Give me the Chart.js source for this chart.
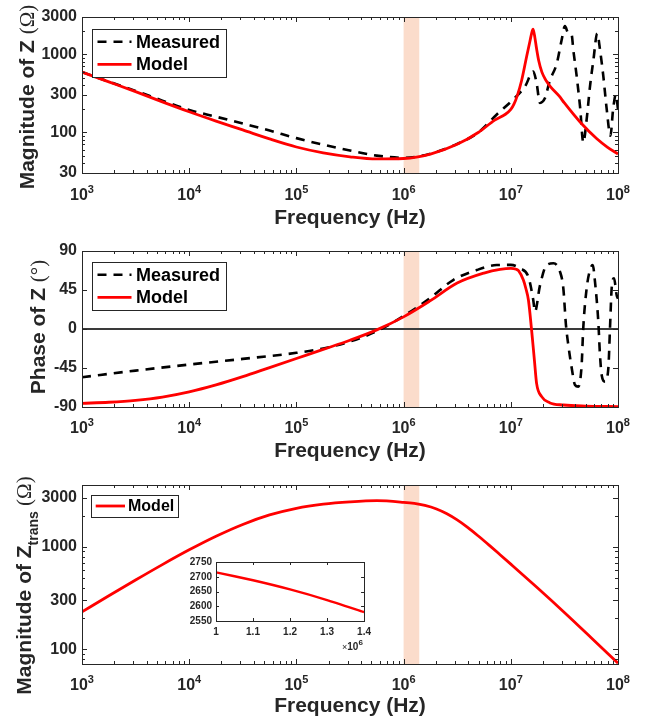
<!DOCTYPE html>
<html>
<head>
<meta charset="utf-8">
<script src="https://cdn.jsdelivr.net/npm/chart.js@4.4.1/dist/chart.umd.min.js"></script>
<style>
  body { margin: 0; background: #fff; }
  #wrap { position: relative; width: 649px; height: 718px; overflow: hidden; }
  #wrap canvas { position: absolute; }
</style>
</head>
<body>
<div id="wrap">
  <canvas id="magChart" width="649" height="232" style="left:0;top:0;width:649px;height:232px"></canvas>
  <canvas id="phaseChart" width="649" height="236" style="left:0;top:232px;width:649px;height:236px"></canvas>
  <canvas id="transChart" width="649" height="250" style="left:0;top:468px;width:649px;height:250px"></canvas>
  <canvas id="insetChart" width="200" height="104" style="left:176px;top:552px;width:200px;height:104px"></canvas>
</div>
<script>
// --- data ---
const bandRange = [1e6, 1.4e6];
const xTickExps = [3, 4, 5, 6, 7, 8];
const magTicks = [30, 100, 300, 1000, 3000];
const phaseTicks = [-90, -45, 0, 45, 90];
const transTicks = [100, 300, 1000, 3000];
const insetXTicks = [1e6, 1.1e6, 1.2e6, 1.3e6, 1.4e6];
const insetYTicks = [2550, 2600, 2650, 2700, 2750];

// |Z| model
const magModelFreq = [1e3, 1.78e3, 3.16e3, 5.62e3, 1e4, 1.78e4, 3.16e4, 5.62e4, 1e5, 1.78e5, 3.16e5, 5.62e5, 1e6, 1.78e6, 3.16e6, 5.01e6, 7.08e6, 8.91e6, 1e7, 1.07e7, 1.15e7, 1.26e7, 1.41e7, 1.51e7, 1.585e7, 1.61e7, 1.66e7, 1.74e7, 1.82e7, 1.95e7, 2.14e7, 2.34e7, 2.82e7, 3.16e7, 4.47e7, 6.31e7, 7.94e7, 1e8];
const magModelOhm = [590, 442, 331, 245, 183, 139, 107, 82, 64.6, 54.3, 48.4, 45.4, 46, 52.5, 70, 100, 143, 170, 196, 229, 295, 457, 955, 1479, 1995, 2089, 1778, 1175, 832, 589, 457, 385, 292, 237, 133, 83, 64.6, 52.5];
// |Z| measured
const magMeasFreq = [1e3, 1.78e3, 3.16e3, 5.62e3, 1e4, 1.78e4, 3.16e4, 5.62e4, 1e5, 1.78e5, 3.16e5, 5.62e5, 1e6, 1.78e6, 3.16e6, 5.01e6, 7.4e6, 1.05e7, 1.36e7, 1.62e7, 1.74e7, 1.87e7, 2.09e7, 2.3e7, 2.69e7, 2.98e7, 3.2e7, 3.44e7, 3.7e7, 3.83e7, 4.12e7, 4.42e7, 4.75e7, 5.1e7, 5.48e7, 5.9e7, 6.4e7, 6.8e7, 7.3e7, 7.85e7, 8.5e7, 9.0e7, 9.55e7, 1e8];
const magMeasOhm = [590, 445, 339, 254, 193, 158, 129, 105, 84, 69.2, 58.2, 50.1, 47, 53.1, 70.8, 100, 169, 262, 387, 601, 428, 238, 276, 449, 769, 1520, 2290, 1850, 1758, 1134, 519, 216, 74, 146, 387, 847, 1850, 1134, 519, 196, 90, 196, 304, 196];

// phase model
const phaseModelFreq = [1e3, 1.78e3, 3.16e3, 5.62e3, 1e4, 1.78e4, 3.16e4, 5.62e4, 1e5, 1.78e5, 3.16e5, 5.62e5, 1e6, 1.78e6, 3.16e6, 5.62e6, 7.94e6, 1e7, 1.12e7, 1.18e7, 1.31e7, 1.38e7, 1.46e7, 1.56e7, 1.66e7, 1.74e7, 1.94e7, 2.3e7, 3.1e7, 5e7, 1e8];
const phaseModelDeg = [-85.8, -84.5, -82.3, -78.5, -72.5, -64.5, -55, -44.5, -34, -23.5, -13, -1, 14, 32.7, 53, 64.5, 68.8, 70, 69, 67.3, 56.5, 47, 33.5, 0, -35.8, -62.7, -78, -85, -87.7, -89, -89.5];
// phase measured
const phaseMeasFreq = [1e3, 3.16e3, 1e4, 3.16e4, 1e5, 1.78e5, 3.16e5, 5.62e5, 1e6, 1.78e6, 2.9e6, 4.8e6, 7.4e6, 1e7, 1.22e7, 1.46e7, 1.62e7, 1.68e7, 1.87e7, 2.16e7, 2.5e7, 2.88e7, 3.09e7, 3.27e7, 3.44e7, 3.7e7, 3.97e7, 4.27e7, 4.58e7, 4.74e7, 5.1e7, 5.48e7, 5.81e7, 6.1e7, 6.55e7, 6.79e7, 7.04e7, 7.57e7, 8.13e7, 8.42e7, 8.73e7, 9.18e7, 9.72e7, 1e8];
const phaseMeasDeg = [-55.7, -48, -41, -34.5, -27.5, -22.5, -14.5, -2.5, 15, 36, 56.5, 68, 73.8, 74, 70, 60, 33.5, 20, 50, 73.8, 75.8, 66, 47, 4.6, -18.5, -45, -64.6, -66.5, -41.5, 0.8, 47, 68, 73.8, 54.6, 8.5, -30, -53, -60.8, -45, 0.8, 47, 58.5, 39, 35];

// |Z_trans| model
const transFreq = [1e3, 1.78e3, 3.16e3, 5.62e3, 1e4, 1.78e4, 3.16e4, 5.62e4, 1e5, 1.78e5, 3.16e5, 5.62e5, 1e6, 1.26e6, 1.58e6, 2e6, 2.51e6, 3.16e6, 3.98e6, 5.01e6, 6.31e6, 7.94e6, 1e7, 1.78e7, 3.16e7, 5.62e7, 1e8];
const transOhm = [232, 333, 474, 670, 933, 1266, 1650, 2042, 2371, 2600, 2738, 2811, 2713, 2645, 2527, 2348, 2107, 1826, 1537, 1266, 1032, 837, 677, 396, 229, 130, 73.4];

// inset zoom 1.0-1.4 MHz
const insetFreq = [1.0e6, 1.1e6, 1.2e6, 1.3e6, 1.4e6];
const insetOhm = [2715, 2688, 2657, 2621, 2580];

// --- styling ---
const FONT = '"Liberation Sans", Arial, Helvetica, sans-serif';
const SERIF = '"Liberation Serif", "DejaVu Serif", serif';
const INK = '#262626';
const RED = '#ff0000';
const BAND = '#fbdccb';

function pts(xs, ys) { return xs.map((x, i) => ({ x: x, y: ys[i] })); }

function logMinors(min, max, majors) {
	const out = [];
	for (let e = Math.floor(Math.log10(min)); e <= Math.ceil(Math.log10(max)); e++) {
		for (let k = 1; k <= 9; k++) {
			const v = k * Math.pow(10, e);
			if (v >= min * 0.999 && v <= max * 1.001 && majors.indexOf(v) < 0) out.push(v);
		}
	}
	return out;
}

// draw a run of text pieces (font changes, sub/superscript) from one start point
function drawRich(ctx, segs, x, y, align) {
	let w = 0;
	segs.forEach(s => { ctx.font = s.font; s.w = ctx.measureText(s.t).width; w += s.w; });
	let cx = align === 'center' ? x - w / 2 : x;
	ctx.textAlign = 'left';
	ctx.textBaseline = 'alphabetic';
	segs.forEach(s => { ctx.font = s.font; ctx.fillText(s.t, cx, y + (s.dy || 0)); cx += s.w; });
}

function axesPlugin(o) {
	return {
		id: 'matlabAxes',
		beforeDatasetsDraw(chart) {
			const ctx = chart.ctx, ca = chart.chartArea, xs = chart.scales.x, ys = chart.scales.y;
			ctx.save();
			const x0 = xs.getPixelForValue(bandRange[0]), x1 = xs.getPixelForValue(bandRange[1]);
			ctx.fillStyle = BAND;
			ctx.fillRect(x0, ca.top, x1 - x0, ca.bottom - ca.top);
			if (o.zeroLine) {
				const py = ys.getPixelForValue(0);
				ctx.strokeStyle = '#3a3a3a'; ctx.lineWidth = 1.8;
				ctx.beginPath(); ctx.moveTo(ca.left, py); ctx.lineTo(ca.right, py); ctx.stroke();
			}
			ctx.restore();
		},
		afterDraw(chart) {
			const ctx = chart.ctx, ca = chart.chartArea, xs = chart.scales.x, ys = chart.scales.y;
			ctx.save();
			ctx.strokeStyle = INK; ctx.lineWidth = 1;
			ctx.beginPath();
			const xMaj = xTickExps.map(e => Math.pow(10, e));
			const xMin = logMinors(1e3, 1e8, xMaj);
			function xt(v, len) {
				const px = Math.round(xs.getPixelForValue(v)) + 0.5;
				ctx.moveTo(px, ca.bottom); ctx.lineTo(px, ca.bottom - len);
				ctx.moveTo(px, ca.top); ctx.lineTo(px, ca.top + len);
			}
			function yt(v, len) {
				const py = Math.round(ys.getPixelForValue(v)) + 0.5;
				ctx.moveTo(ca.left, py); ctx.lineTo(ca.left + len, py);
				ctx.moveTo(ca.right, py); ctx.lineTo(ca.right - len, py);
			}
			xMaj.forEach(v => xt(v, 5));
			xMin.forEach(v => xt(v, 3));
			o.yTicks.forEach(v => yt(v, 5));
			if (o.yLog) logMinors(ys.min, ys.max, o.yTicks).forEach(v => yt(v, 3));
			ctx.stroke();
			ctx.strokeRect(Math.round(ca.left) + 0.5, Math.round(ca.top) + 0.5, Math.round(ca.right - ca.left), Math.round(ca.bottom - ca.top));

			// x tick labels 10^n
			ctx.fillStyle = INK;
			xTickExps.forEach(e => {
				const px = xs.getPixelForValue(Math.pow(10, e));
				drawRich(ctx, [
					{ t: '10', font: 'bold 16px ' + FONT },
					{ t: String(e), font: 'bold 11px ' + FONT, dy: -7 }
				], px, ca.bottom + o.tickDy, 'center');
			});
			drawRich(ctx, [{ t: 'Frequency (Hz)', font: 'bold 21px ' + FONT }], (ca.left + ca.right) / 2, ca.bottom + o.titleDy, 'center');

			// y title, rotated
			ctx.save();
			ctx.translate(o.yTitleX, (ca.top + ca.bottom) / 2 + (o.yTitleDy || 0));
			ctx.rotate(-Math.PI / 2);
			drawRich(ctx, o.yTitle, 0, 0, 'center');
			ctx.restore();

			// legend in the upper left corner
			const sets = chart.data.datasets;
			const L = o.legend;
			const bx = ca.left + L.dx, by = ca.top + L.dy;
			ctx.fillStyle = '#fff';
			ctx.fillRect(bx, by, L.w, L.h);
			ctx.strokeStyle = INK; ctx.lineWidth = 1;
			ctx.strokeRect(Math.round(bx) + 0.5, Math.round(by) + 0.5, L.w, L.h);
			sets.forEach((d, i) => {
				const ry = by + L.row0 + i * 22.6;
				ctx.strokeStyle = d.borderColor; ctx.lineWidth = d.borderWidth;
				ctx.setLineDash(d.borderDash || []);
				ctx.beginPath(); ctx.moveTo(bx + L.l0, ry); ctx.lineTo(bx + L.l1, ry); ctx.stroke();
				ctx.setLineDash([]);
				ctx.fillStyle = '#000';
				ctx.font = 'bold ' + L.size + 'px ' + FONT;
				ctx.textAlign = 'left'; ctx.textBaseline = 'middle';
				ctx.fillText(d.label, bx + L.tx, ry + 1);
			});
			ctx.restore();
		}
	};
}

function measuredSet(xs, ys) {
	return { label: 'Measured', data: pts(xs, ys), borderColor: '#000', borderWidth: 2.6, borderDash: [9, 7], order: 1 };
}
function modelSet(xs, ys) {
	return { label: 'Model', data: pts(xs, ys), borderColor: RED, borderWidth: 2.8, order: 0 };
}

function makeChart(id, datasets, yScale, pad, xHeight, plug) {
	return new Chart(document.getElementById(id), {
		type: 'line',
		data: { datasets: datasets },
		options: {
			responsive: false,
			animation: false,
			devicePixelRatio: 1,
			layout: { padding: { top: pad.top, right: pad.right, left: 0, bottom: 0 } },
			elements: { point: { radius: 0 }, line: { cubicInterpolationMode: 'monotone' } },
			plugins: { legend: { display: false }, tooltip: { enabled: false } },
			scales: {
				x: {
					type: 'logarithmic', min: 1e3, max: 1e8,
					grid: { display: false }, border: { display: false },
					ticks: { display: false },
					afterFit(s) { s.height = xHeight; }
				},
				y: Object.assign({
					grid: { display: false, drawTicks: false }, border: { display: false },
					ticks: { autoSkip: false, padding: 5, color: INK, font: { family: FONT, size: 16, weight: 'bold' }, callback: v => String(v) },
					afterFit(s) { s.width = 82; }
				}, yScale)
			}
		},
		plugins: [plug]
	});
}

const titleBold = 'bold 21px ' + FONT;
const titleThin = '21px ' + SERIF;

makeChart('magChart',
	[measuredSet(magMeasFreq, magMeasOhm), modelSet(magModelFreq, magModelOhm)],
	{ type: 'logarithmic', min: 30, max: 3000, afterBuildTicks(s) { s.ticks = magTicks.map(v => ({ value: v })); } },
	{ top: 17, right: 31 }, 59,
	axesPlugin({
		yTicks: magTicks, yLog: true, tickDy: 27, titleDy: 51, yTitleX: 34, yTitleDy: 2,
		yTitle: [{ t: 'Magnitude of Z ', font: titleBold }, { t: '(\u03A9)', font: titleThin }],
		legend: { dx: 10, dy: 12, w: 134, h: 48, row0: 12.7, l0: 5.5, l1: 39.5, tx: 44, size: 18 }
	}));

makeChart('phaseChart',
	[measuredSet(phaseMeasFreq, phaseMeasDeg), modelSet(phaseModelFreq, phaseModelDeg)],
	{ type: 'linear', min: -90, max: 90, afterBuildTicks(s) { s.ticks = phaseTicks.map(v => ({ value: v })); } },
	{ top: 19, right: 31 }, 61,
	axesPlugin({
		yTicks: phaseTicks, yLog: false, zeroLine: true, tickDy: 25.5, titleDy: 50, yTitleX: 45, yTitleDy: -2,
		yTitle: [{ t: 'Phase of Z ', font: titleBold }, { t: '(\u00B0)', font: titleThin }],
		legend: { dx: 10, dy: 11, w: 134, h: 48, row0: 12.7, l0: 5.5, l1: 39.5, tx: 44, size: 18 }
	}));

makeChart('transChart',
	[modelSet(transFreq, transOhm)],
	{ type: 'logarithmic', min: 72, max: 4000, afterBuildTicks(s) { s.ticks = transTicks.map(v => ({ value: v })); } },
	{ top: 17, right: 31 }, 54,
	axesPlugin({
		yTicks: transTicks, yLog: true, tickDy: 26, titleDy: 48, yTitleX: 31, yTitleDy: 11,
		yTitle: [{ t: 'Magnitude of Z', font: titleBold }, { t: 'trans', font: 'bold 14px ' + FONT, dy: 7 }, { t: ' (\u03A9)', font: titleThin }],
		legend: { dx: 9, dy: 10, w: 87, h: 22, row0: 11, l0: 4.7, l1: 34, tx: 37, size: 16 }
	}));

// inset
new Chart(document.getElementById('insetChart'), {
	type: 'line',
	data: { datasets: [{ label: 'Model', data: pts(insetFreq, insetOhm), borderColor: RED, borderWidth: 2.4 }] },
	options: {
		responsive: false, animation: false, devicePixelRatio: 1,
		layout: { padding: { top: 10, right: 11, left: 0, bottom: 0 } },
		elements: { point: { radius: 0 }, line: { tension: 0.2 } },
		plugins: { legend: { display: false }, tooltip: { enabled: false } },
		scales: {
			x: {
				type: 'linear', min: 1e6, max: 1.4e6,
				grid: { display: false, drawTicks: false }, border: { display: false },
				afterBuildTicks(s) { s.ticks = insetXTicks.map(v => ({ value: v })); },
				ticks: { autoSkip: false, maxRotation: 0, padding: 5, color: INK, font: { family: FONT, size: 10, weight: 'bold' }, callback: v => String(+(v / 1e6).toFixed(1)) },
				afterFit(s) { s.height = 35; }
			},
			y: {
				type: 'linear', min: 2550, max: 2750,
				grid: { display: false, drawTicks: false }, border: { display: false },
				afterBuildTicks(s) { s.ticks = insetYTicks.map(v => ({ value: v })); },
				ticks: { autoSkip: false, padding: 4, color: INK, font: { family: FONT, size: 10, weight: 'bold' }, callback: v => String(v) },
				afterFit(s) { s.width = 40; }
			}
		}
	},
	plugins: [{
		id: 'insetFrame',
		beforeDatasetsDraw(chart) {
			const ca = chart.chartArea, ctx = chart.ctx;
			ctx.save(); ctx.fillStyle = '#fff';
			ctx.fillRect(ca.left, ca.top, ca.right - ca.left, ca.bottom - ca.top);
			ctx.restore();
		},
		afterDraw(chart) {
			const ctx = chart.ctx, ca = chart.chartArea, xs = chart.scales.x, ys = chart.scales.y;
			ctx.save();
			ctx.strokeStyle = INK; ctx.lineWidth = 1;
			ctx.beginPath();
			insetXTicks.forEach(v => {
				const px = Math.round(xs.getPixelForValue(v)) + 0.5;
				ctx.moveTo(px, ca.bottom); ctx.lineTo(px, ca.bottom - 3);
				ctx.moveTo(px, ca.top); ctx.lineTo(px, ca.top + 3);
			});
			insetYTicks.forEach(v => {
				const py = Math.round(ys.getPixelForValue(v)) + 0.5;
				ctx.moveTo(ca.left, py); ctx.lineTo(ca.left + 3, py);
				ctx.moveTo(ca.right, py); ctx.lineTo(ca.right - 3, py);
			});
			ctx.stroke();
			ctx.strokeRect(Math.round(ca.left) + 0.5, Math.round(ca.top) + 0.5, Math.round(ca.right - ca.left), Math.round(ca.bottom - ca.top));
			ctx.fillStyle = INK;
			drawRich(ctx, [
				{ t: '\u00D7', font: '9px ' + FONT },
				{ t: '10', font: 'bold 10px ' + FONT },
				{ t: '6', font: 'bold 8px ' + FONT, dy: -5 }
			], ca.right - 22, ca.bottom + 29, 'left');
			ctx.restore();
		}
	}]
});
</script>
</body>
</html>
